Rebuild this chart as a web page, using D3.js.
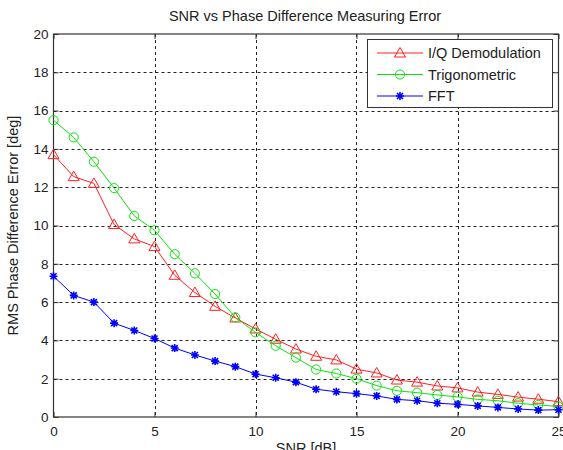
<!DOCTYPE html>
<html>
<head>
<meta charset="utf-8">
<script src="https://cdn.jsdelivr.net/npm/d3@7"></script>
<style>
  body { margin: 0; background: #fff; }
  svg text { font-family: "Liberation Sans", Arial, sans-serif; fill: #222; }
</style>
</head>
<body>
<svg width="563" height="450"></svg>
<script>
var snr = d3.range(0, 26);
var iqDemod = [13.7, 12.55, 12.2, 10.05, 9.3, 8.9, 7.4, 6.5, 5.78, 5.17, 4.6, 4.06, 3.55, 3.17, 2.98, 2.5, 2.3, 1.93, 1.82, 1.62, 1.52, 1.3, 1.18, 1.04, 0.93, 0.8];
var trig = [15.5, 14.6, 13.33, 11.95, 10.5, 9.75, 8.5, 7.5, 6.42, 5.2, 4.42, 3.72, 3.1, 2.48, 2.27, 2.0, 1.64, 1.37, 1.27, 1.15, 1.05, 0.92, 0.85, 0.72, 0.63, 0.55];
var fft = [7.35, 6.35, 6.0, 4.9, 4.52, 4.1, 3.6, 3.24, 2.92, 2.63, 2.24, 2.05, 1.82, 1.45, 1.32, 1.22, 1.1, 0.92, 0.85, 0.72, 0.66, 0.58, 0.5, 0.42, 0.36, 0.38];
var xTicks = [0, 5, 10, 15, 20, 25];
var yTicks = [0, 2, 4, 6, 8, 10, 12, 14, 16, 18, 20];
var seriesNames = ["I/Q Demodulation", "Trigonometric", "FFT"];

var svg = d3.select("svg");
var pLeft = 53.5, pRight = 558.5, pTop = 34, pBottom = 417;

var x = d3.scaleLinear().domain([0, 25]).range([pLeft, pRight]);
var y = d3.scaleLinear().domain([0, 20]).range([pBottom, pTop]);

// grid
var g = svg.append("g");
g.selectAll(".vg").data(xTicks.slice(1, -1)).enter().append("line")
  .attr("x1", function(d){return Math.round(x(d)) + 0.5;})
  .attr("x2", function(d){return Math.round(x(d)) + 0.5;})
  .attr("y1", pTop).attr("y2", pBottom)
  .attr("stroke", "#222").attr("stroke-dasharray", "3,3");
g.selectAll(".hg").data(yTicks.slice(1, -1)).enter().append("line")
  .attr("y1", function(d){return Math.round(y(d)) + 0.5;})
  .attr("y2", function(d){return Math.round(y(d)) + 0.5;})
  .attr("x1", pLeft).attr("x2", pRight)
  .attr("stroke", "#222").attr("stroke-dasharray", "3,3");

// axes (ticks inward, matlab style)
svg.append("g").attr("transform", "translate(0," + pBottom + ")")
  .call(d3.axisBottom(x).tickValues(xTicks).tickSizeInner(-5).tickSizeOuter(0).tickPadding(9))
  .call(function(a){ a.select(".domain").remove(); a.selectAll("text").style("font-size", "13.5px"); a.selectAll("line").attr("stroke", "#333"); });
svg.append("g").attr("transform", "translate(0," + pTop + ")")
  .call(d3.axisTop(x).tickValues(xTicks).tickSizeInner(-5).tickSizeOuter(0).tickFormat(""))
  .call(function(a){ a.select(".domain").remove(); a.selectAll("line").attr("stroke", "#333"); });
svg.append("g").attr("transform", "translate(" + pLeft + ",0)")
  .call(d3.axisLeft(y).tickValues(yTicks).tickSizeInner(-5).tickSizeOuter(0).tickPadding(5))
  .call(function(a){ a.select(".domain").remove(); a.selectAll("text").style("font-size", "13.5px"); a.selectAll("line").attr("stroke", "#333"); });
svg.append("g").attr("transform", "translate(" + pRight + ",0)")
  .call(d3.axisRight(y).tickValues(yTicks).tickSizeInner(-5).tickSizeOuter(0).tickFormat(""))
  .call(function(a){ a.select(".domain").remove(); a.selectAll("line").attr("stroke", "#333"); });

svg.append("rect").attr("x", pLeft).attr("y", pTop)
  .attr("width", pRight - pLeft).attr("height", pBottom - pTop)
  .attr("fill", "none").attr("stroke", "#333").attr("stroke-width", 1.2);

// series
var line = d3.line().x(function(d, i){return x(snr[i]);}).y(function(d){return y(d);});

function triangle(sel) {
  sel.attr("d", "M0,-5.5L5.5,4L-5.5,4Z").attr("fill", "none").attr("stroke", "#ff2020").attr("stroke-width", 1);
}
function circle(sel) {
  sel.attr("d", d3.symbol().type(d3.symbolCircle).size(66)()).attr("fill", "none").attr("stroke", "#10e010").attr("stroke-width", 1);
}
function star(sel) {
  sel.attr("d", "M-4,0L4,0M0,-4L0,4M-3,-3L3,3M-3,3L3,-3").attr("fill", "none").attr("stroke", "#0000ff").attr("stroke-width", 1.6);
}

var series = [
  {data: iqDemod, color: "#ff2020", marker: triangle},
  {data: trig, color: "#10e010", marker: circle},
  {data: fft, color: "#0000ff", marker: star}
];

series.forEach(function(s) {
  svg.append("path").datum(s.data).attr("d", line)
    .attr("fill", "none").attr("stroke", s.color).attr("stroke-width", 1);
  svg.selectAll(null).data(s.data).enter().append("path")
    .attr("transform", function(d, i){return "translate(" + x(snr[i]) + "," + y(d) + ")";})
    .call(s.marker);
});

// legend
var lg = svg.append("g");
lg.append("rect").attr("x", 367.5).attr("y", 39.5).attr("width", 185).attr("height", 68)
  .attr("fill", "#fff").attr("stroke", "#333");
series.forEach(function(s, i) {
  var ly = 53 + i * 21.5;
  lg.append("line").attr("x1", 377).attr("x2", 423).attr("y1", ly).attr("y2", ly)
    .attr("stroke", s.color).attr("stroke-width", 1);
  lg.append("path").attr("transform", "translate(400," + ly + ")").call(s.marker);
  lg.append("text").attr("x", 428).attr("y", ly + 5).style("font-size", "14.5px").text(seriesNames[i]);
});

// titles
svg.append("text").attr("x", 305).attr("y", 21).attr("text-anchor", "middle")
  .style("font-size", "14.5px").text("SNR vs Phase Difference Measuring Error");
svg.append("text").attr("x", 306).attr("y", 453).attr("text-anchor", "middle")
  .style("font-size", "14.5px").text("SNR [dB]");
svg.append("text").attr("transform", "translate(18," + (pTop + pBottom) / 2 + ") rotate(-90)")
  .attr("text-anchor", "middle").style("font-size", "14.5px").text("RMS Phase Difference Error [deg]");
</script>
</body>
</html>
